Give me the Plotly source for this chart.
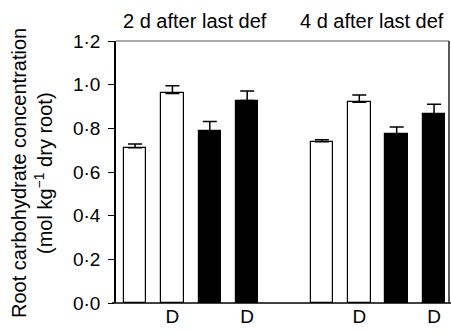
import plotly.graph_objects as go

# Data
positions = [0, 1, 2, 3, 5, 6, 7, 8]
tick_labels = ["", "D", "", "D", "", "D", "", "D"]
values = [0.711, 0.960, 0.788, 0.927, 0.739, 0.919, 0.773, 0.867]
errors = [0.017, 0.035, 0.043, 0.044, 0.009, 0.034, 0.033, 0.043]
fill_colors = ["white", "white", "black", "black", "white", "white", "black", "black"]
y_tickvals = [0.0, 0.2, 0.4, 0.6, 0.8, 1.0, 1.2]
y_ticktext = ["0·0", "0·2", "0·4", "0·6", "0·8", "1·0", "1·2"]
group_titles = ["2 d after last def", "4 d after last def"]

FONT = "Liberation Sans, Arial, Helvetica, sans-serif"
FS = 19

W, H = 451, 333
L, R, T, B = 116, 2, 41, 30
pw = W - L - R
ph = H - T - B

fig = go.Figure()
fig.add_trace(go.Bar(
    x=positions, y=values, width=0.6,
    marker=dict(color=fill_colors, line=dict(color="black", width=1.2)),
    error_y=dict(type="data", symmetric=False, array=errors,
                 arrayminus=[0] * len(errors), color="black",
                 thickness=1.5, width=7),
    showlegend=False,
))

fig.update_layout(
    width=W, height=H,
    margin=dict(l=L, r=R, t=T, b=B),
    plot_bgcolor="white", paper_bgcolor="white",
    font=dict(family=FONT, size=FS, color="black"),
    bargap=0,
    xaxis=dict(range=[-0.51, 8.4], tickvals=positions, ticktext=tick_labels,
               showgrid=False, zeroline=False, showline=False, ticks="",
               tickfont=dict(size=FS)),
    yaxis=dict(range=[0, 1.2], tickvals=y_tickvals, ticktext=y_ticktext,
               showgrid=False, zeroline=False, showline=True, linecolor="black",
               linewidth=1.5, ticks="outside", ticklen=6, tickwidth=1.2,
               tickcolor="black", tickfont=dict(size=FS), ticklabelstandoff=4),
)

# frame lines
fig.add_shape(type="line", xref="paper", yref="paper", x0=-4 / pw, x1=1.006, y0=0, y1=0,
              line=dict(color="black", width=1.5))
fig.add_shape(type="line", xref="paper", yref="paper", x0=0, x1=1, y0=1, y1=1,
              line=dict(color="#555555", width=1))
fig.add_shape(type="line", xref="paper", yref="paper", x0=1, x1=1, y0=0, y1=1,
              line=dict(color="#222222", width=1.5))

# group titles (positions in screenshot pixels)
for xc, txt in zip([194.5, 371.5], group_titles):
    fig.add_annotation(x=(xc - L) / pw, y=1 + (T - 21) / ph, xref="paper", yref="paper",
                       text=txt, showarrow=False, xanchor="center", yanchor="middle",
                       font=dict(size=20))

# y-axis title (two lines)
for xc, txt in zip([19, 43], ["Root carbohydrate concentration", "(mol kg<sup>−1</sup> dry root)"]):
    fig.add_annotation(x=(xc - L) / pw, y=(303 - 173) / ph, xref="paper", yref="paper", text=txt,
                       textangle=-90, showarrow=False, xanchor="center", yanchor="middle",
                       font=dict(size=20))

# remove default page margin so the figure fills the window exactly
fig.write_html(
    "out.html",
    config={"displayModeBar": False},
    post_script="document.body.style.margin='0';document.documentElement.style.overflow='hidden';",
)
